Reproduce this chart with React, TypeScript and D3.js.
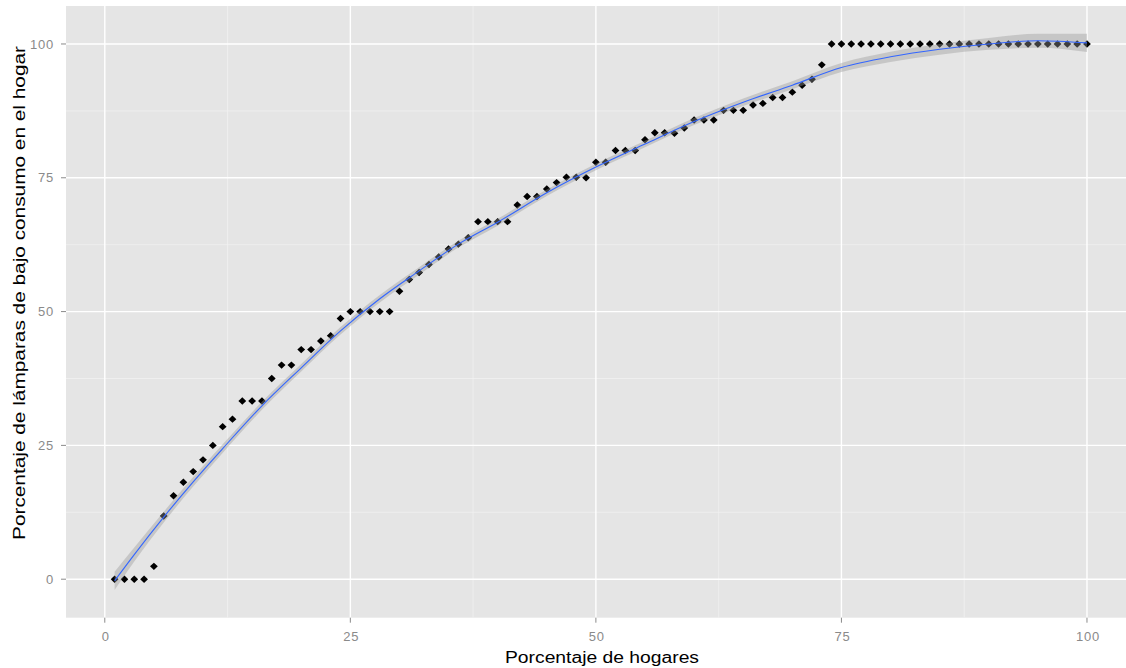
import React from "react";
import * as d3 from "d3";

// porcentaje de hogares (x) and porcentaje de lámparas de bajo consumo (y)
const hogares = [
  1, 2, 3, 4, 5, 6, 7, 8, 9, 10,
  11, 12, 13, 14, 15, 16, 17, 18, 19, 20,
  21, 22, 23, 24, 25, 26, 27, 28, 29, 30,
  31, 32, 33, 34, 35, 36, 37, 38, 39, 40,
  41, 42, 43, 44, 45, 46, 47, 48, 49, 50,
  51, 52, 53, 54, 55, 56, 57, 58, 59, 60,
  61, 62, 63, 64, 65, 66, 67, 68, 69, 70,
  71, 72, 73, 74, 75, 76, 77, 78, 79, 80,
  81, 82, 83, 84, 85, 86, 87, 88, 89, 90,
  91, 92, 93, 94, 95, 96, 97, 98, 99, 100,
];
const lamparas = [
  0, 0, 0, 0, 2.4, 11.8, 15.6, 18.1, 20.1, 22.3,
  25, 28.5, 29.9, 33.3, 33.3, 33.3, 37.5, 40, 40, 42.9,
  42.9, 44.5, 45.5, 48.7, 50, 50, 50, 50, 50, 53.8,
  56, 57.3, 58.8, 60.2, 61.7, 62.6, 63.8, 66.8, 66.8, 66.8,
  66.8, 69.9, 71.5, 71.5, 72.9, 74.1, 75.1, 75.1, 75, 77.9,
  77.9, 80.1, 80.1, 80.1, 82.1, 83.4, 83.4, 83.3, 84.3, 85.8,
  85.8, 85.8, 87.6, 87.6, 87.6, 88.6, 88.9, 90, 90, 91,
  92.3, 93.4, 96.1, 100, 100, 100, 100, 100, 100, 100,
  100, 100, 100, 100, 100, 100, 100, 100, 100, 100,
  100, 100, 100, 100, 100, 100, 100, 100, 100, 100,
];

// loess smooth (fit and half width of the band)
const smoothX = [1, 3, 6, 9, 12, 16, 20, 24, 28, 32, 36, 40, 45, 50, 55, 60, 65, 70, 75, 80, 85, 90, 95, 100];
const smoothY = [-0.3, 4.6, 11.6, 18.2, 24.4, 32.4, 39.5, 46.4, 52.4, 57.6, 62.6, 66.7, 72.2, 77.0, 81.3, 85.5, 89.1, 92.3, 95.6, 97.6, 99.0, 100.0, 100.6, 100.2];
const smoothSe = [1.7, 1.3, 1.0, 0.9, 0.8, 0.75, 0.7, 0.7, 0.7, 0.7, 0.65, 0.65, 0.6, 0.6, 0.6, 0.65, 0.7, 0.75, 0.85, 0.95, 1.0, 1.1, 1.3, 1.7];

const xBreaks = [0, 25, 50, 75, 100];
const yBreaks = [0, 25, 50, 75, 100];
const xMinor = [12.5, 37.5, 62.5, 87.5];
const yMinor = [12.5, 37.5, 62.5, 87.5];

const W = 1126;
const H = 668;
const panel = { left: 66, top: 6, right: 1135.6, bottom: 617.7 };

const expand = (lo: number, hi: number) => {
  const pad = (hi - lo) * 0.05;
  return [lo - pad, hi + pad];
};

export default function App() {
  const smooth = smoothX.map((x, i) => ({ x, y: smoothY[i], lo: smoothY[i] - smoothSe[i], hi: smoothY[i] + smoothSe[i] }));
  const pts = hogares.map((x, i) => ({ x, y: lamparas[i] }));

  const xs = d3
    .scaleLinear()
    .domain(expand(d3.min(hogares)!, d3.max(hogares)!))
    .range([panel.left, panel.right]);
  const yLo = Math.min(d3.min(lamparas)!, d3.min(smooth, (d) => d.lo)!);
  const yHi = Math.max(d3.max(lamparas)!, d3.max(smooth, (d) => d.hi)!);
  const ys = d3.scaleLinear().domain(expand(yLo, yHi)).range([panel.bottom, panel.top]);

  const band = d3
    .area<any>()
    .x((d) => xs(d.x))
    .y0((d) => ys(d.lo))
    .y1((d) => ys(d.hi))
    .curve(d3.curveMonotoneX);
  const line = d3
    .line<any>()
    .x((d) => xs(d.x))
    .y((d) => ys(d.y))
    .curve(d3.curveMonotoneX);

  const grey50 = "#8a8a8a";
  const diamond = "M0,-3.7L3.9,0L0,3.7L-3.9,0Z";

  return (
    <svg
      width={W}
      height={H}
      style={{ position: "absolute", left: 0, top: 0, background: "#fff" }}
      fontFamily="'Liberation Sans', Arial, sans-serif"
    >
      <rect x={panel.left} y={panel.top} width={panel.right - panel.left} height={panel.bottom - panel.top} fill="#e5e5e5" />
      {xMinor.map((v) => (
        <line key={"xm" + v} x1={xs(v)} x2={xs(v)} y1={panel.top} y2={panel.bottom} stroke="#f2f2f2" strokeWidth={0.7} />
      ))}
      {yMinor.map((v) => (
        <line key={"ym" + v} x1={panel.left} x2={panel.right} y1={ys(v)} y2={ys(v)} stroke="#f2f2f2" strokeWidth={0.7} />
      ))}
      {xBreaks.map((v) => (
        <line key={"xg" + v} x1={xs(v)} x2={xs(v)} y1={panel.top} y2={panel.bottom} stroke="#fff" strokeWidth={1.4} />
      ))}
      {yBreaks.map((v) => (
        <line key={"yg" + v} x1={panel.left} x2={panel.right} y1={ys(v)} y2={ys(v)} stroke="#fff" strokeWidth={1.4} />
      ))}

      {pts.map((d, i) => (
        <path key={i} d={diamond} transform={`translate(${xs(d.x)},${ys(d.y)})`} fill="#000" />
      ))}

      <path d={band(smooth)!} fill="#999999" fillOpacity={0.4} />
      <path d={line(smooth)!} fill="none" stroke="#3366ff" strokeWidth={1.1} />

      {/* y axis */}
      {yBreaks.map((v) => (
        <g key={"yt" + v}>
          <line x1={panel.left - 5} x2={panel.left} y1={ys(v)} y2={ys(v)} stroke={grey50} strokeWidth={1} />
          <text x={panel.left - 12} y={ys(v)} dy="0.35em" textAnchor="end" fontSize={13} fill={grey50} letterSpacing={0.8}>
            {v}
          </text>
        </g>
      ))}
      {/* x axis */}
      {xBreaks.map((v) => (
        <g key={"xt" + v}>
          <line x1={xs(v)} x2={xs(v)} y1={panel.bottom} y2={panel.bottom + 5} stroke={grey50} strokeWidth={1} />
          <text x={xs(v) + 1} y={636} dy="0.35em" textAnchor="middle" fontSize={13} fill={grey50} letterSpacing={0.8}>
            {v}
          </text>
        </g>
      ))}

      <text
        x={602}
        y={657}
        dy="0.35em"
        textAnchor="middle"
        fontSize={16}
        fill="#000"
        textLength={194}
        lengthAdjust="spacingAndGlyphs"
      >
        Porcentaje de hogares
      </text>
      <text
        transform={`translate(19,293) rotate(-90)`}
        dy="0.35em"
        textAnchor="middle"
        fontSize={16}
        fill="#000"
        textLength={494}
        lengthAdjust="spacingAndGlyphs"
      >
        Porcentaje de lámparas de bajo consumo en el hogar
      </text>
    </svg>
  );
}
